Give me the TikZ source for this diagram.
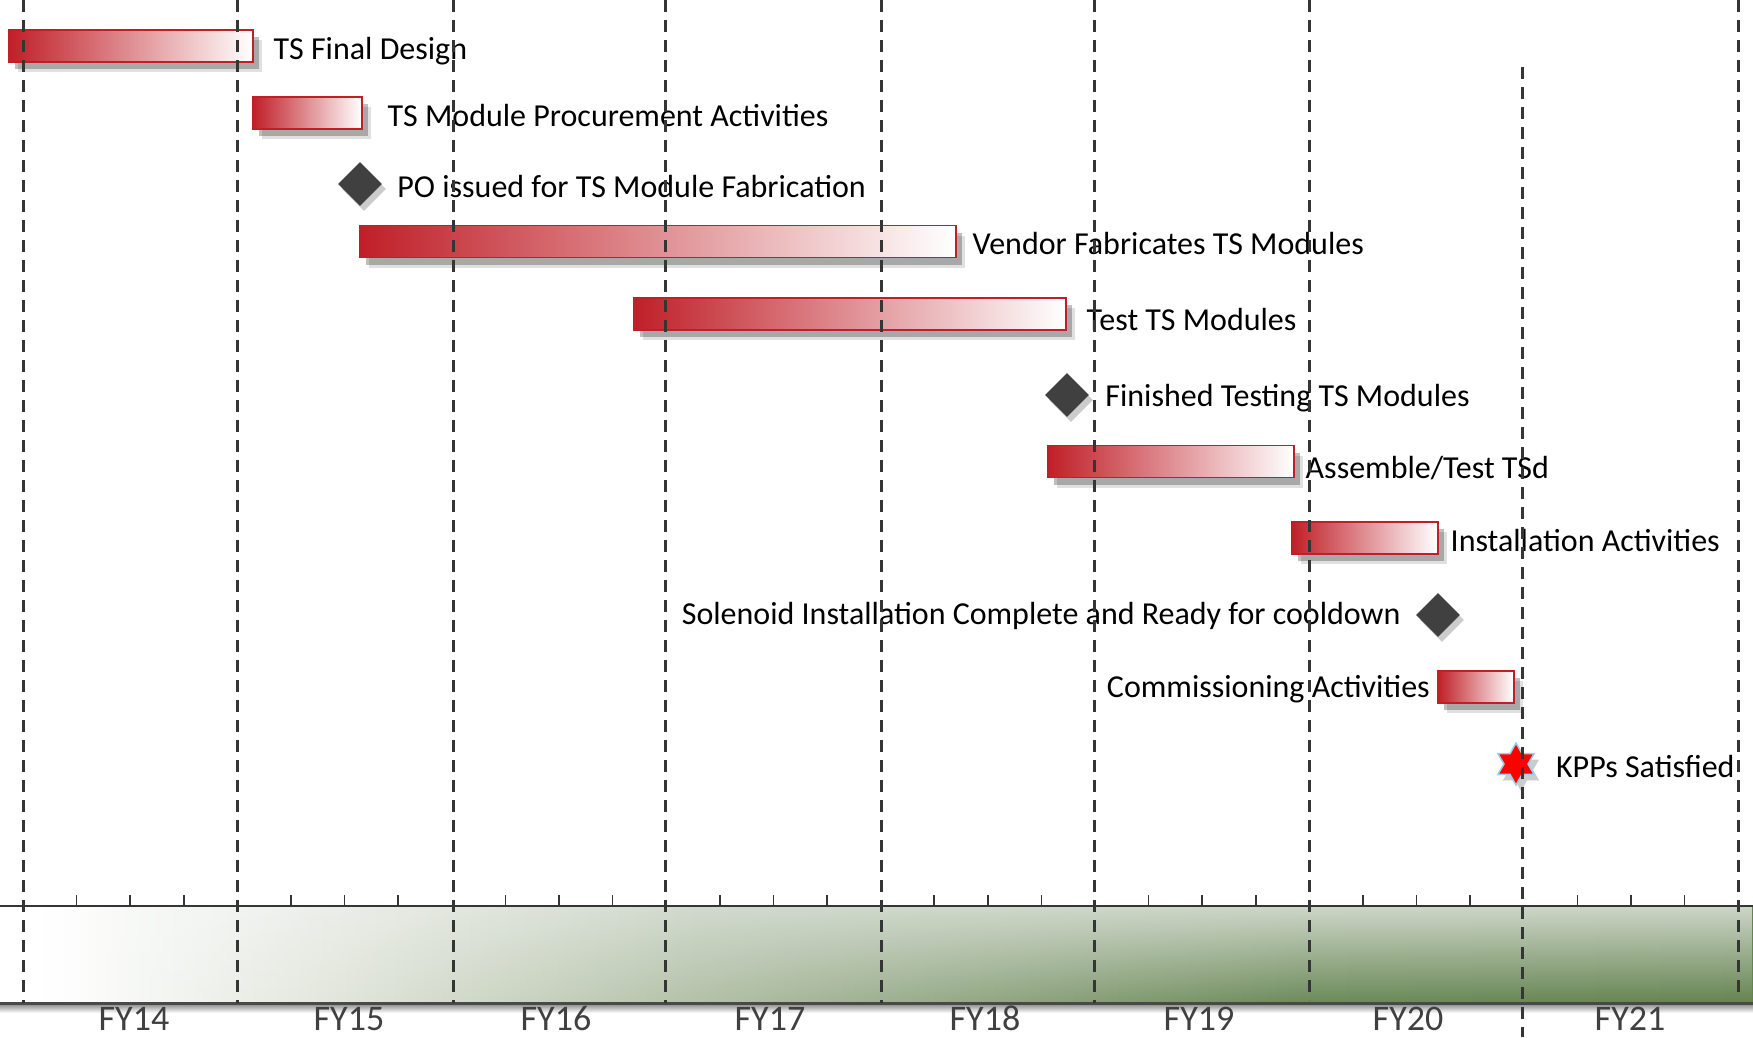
\documentclass[tikz,border=0pt]{standalone}
\usepackage{fontspec}
\setmainfont{Carlito}
\definecolor{barred}{HTML}{C01F28}
\definecolor{milegray}{HTML}{404040}
\definecolor{gridgray}{HTML}{353535}
\definecolor{bandA}{HTML}{E0E5DA}
\definecolor{bandB}{HTML}{C5CFBB}
\definecolor{bandC}{HTML}{A8B89C}
\definecolor{bandD}{HTML}{90A682}
\definecolor{bandE}{HTML}{6C8A59}
\definecolor{bandF}{HTML}{658350}
\definecolor{bandtop}{HTML}{D3DBCF}
\definecolor{starblue}{HTML}{8ED4EC}
\usetikzlibrary{shapes.geometric,positioning,shadows,fadings}
\pgfdeclarehorizontalshading{bandbase}{100bp}{color(0bp)=(white); color(26.5bp)=(white);
  color(35bp)=(bandA); color(41bp)=(bandB); color(47.5bp)=(bandC); color(53.5bp)=(bandD);
  color(62.5bp)=(bandE); color(75bp)=(bandF); color(100bp)=(bandF)}
\pgfdeclarehorizontalshading{bandlight}{100bp}{color(0bp)=(white); color(26bp)=(white);
  color(45bp)=(bandtop); color(100bp)=(bandtop)}
\tikzfading[name=bandfade, top color=transparent!5, bottom color=transparent!100]

\begin{document}
\begin{tikzpicture}[x=1pt, y=-1pt,
  bar/.style={draw=barred, line width=1.5pt, left color=barred, right color=white,
    minimum height=32pt, inner sep=0pt, anchor=west,
    drop shadow={shadow xshift=9pt, shadow yshift=-10pt, fill=black, opacity=0.12},
    drop shadow={shadow xshift=6pt, shadow yshift=-7pt, fill=black, opacity=0.25}},
  milestone/.style={diamond, fill=milegray, minimum size=44pt, inner sep=0pt,
    drop shadow={shadow xshift=4pt, shadow yshift=-5pt, fill=black, opacity=0.2}},
  lbl/.style={font=\fontsize{32}{38}\selectfont, inner sep=0pt,
    text height=20.6pt, text depth=0pt, yshift=-3pt},
  yr/.style={font=\fontsize{36}{42}\selectfont, text=milegray, inner sep=0pt,
    text height=23.2pt, text depth=0pt},
  grid/.style={gridgray, line width=3pt, dash pattern=on 12pt off 8pt},
  tick/.style={gridgray, line width=1.5pt}
]
  \useasboundingbox (0,0) rectangle (1753,1037);

  % time band
  \shade[shading=bandbase] (0,906) rectangle (1753,1003);
  \shade[shading=bandlight, path fading=bandfade] (0,906) rectangle (1753,1003);
  \shade[top color=black!45, bottom color=white] (0,1004) rectangle (1753,1013);
  \draw[gridgray!90, line width=3pt] (0,1003) -- (1753,1003);
  \draw[tick, line width=2pt] (0,906) -- (1753,906);
  \foreach \i in {0,...,7}
    \foreach \k in {1,2,3}
      \draw[tick] ({23+\i*214.4+\k*53.6},906) -- ++(0,-11);

  \node[yr] (fy14) at (134,1019) {FY14};
  \node[yr] (fy15) at (349,1019) {FY15};
  \node[yr] (fy16) at (556,1019) {FY16};
  \node[yr] (fy17) at (770,1019) {FY17};
  \node[yr] (fy18) at (985,1019) {FY18};
  \node[yr] (fy19) at (1199,1019) {FY19};
  \node[yr] (fy20) at (1408,1019) {FY20};
  \node[yr] (fy21) at (1630,1019) {FY21};

  % activities
  \node[bar, minimum width=244pt] (design) at (8,46) {};
  \node[bar, minimum width=109pt] (procure) at (252,113) {};
  \node[bar, minimum width=596pt] (vendor) at (359,241.5) {};
  \node[bar, minimum width=432pt] (testing) at (633,314) {};
  \node[bar, minimum width=246pt] (assemble) at (1047,461.5) {};
  \node[bar, minimum width=146pt] (install) at (1291,538) {};
  \node[bar, minimum width=76pt] (commission) at (1437,687) {};

  % milestones
  \node[milestone] (po) at (360,184) {};
  \node[milestone] (finished) at (1067,395) {};
  \node[milestone] (solenoid) at (1438,615) {};
  \node[star, star points=6, star point ratio=1.75, minimum size=42pt, inner sep=0pt,
    fill=red, draw=starblue, line width=1.5pt,
    drop shadow={shadow xshift=5pt, shadow yshift=-6pt, fill=black, opacity=0.2}]
    (kpp) at (1516,764) {};

  \node[lbl, right=20pt of design] (designtxt) {TS Final Design};
  \node[lbl, right=25pt of procure] (procuretxt) {TS Module Procurement Activities};
  \node[lbl, right=15pt of po] (potxt) {PO issued for TS Module Fabrication};
  \node[lbl, right=16pt of vendor] (vendortxt) {Vendor Fabricates TS Modules};
  \node[lbl, right=20pt of testing, yshift=-3pt] (testingtxt) {Test TS Modules};
  \node[lbl, right=16pt of finished, yshift=2pt] (finishedtxt) {Finished Testing TS Modules};
  \node[lbl, right=11pt of assemble, yshift=-4pt] (assembletxt) {Assemble/Test TSd};
  \node[lbl, right=12pt of install] (installtxt) {Installation Activities};
  \node[lbl, left=15pt of solenoid, yshift=4pt] (solenoidtxt) {Solenoid Installation Complete and Ready for cooldown};
  \node[lbl, left=7pt of commission, yshift=3pt] (commissiontxt) {Commissioning Activities};
  \node[lbl, right=27pt of kpp] (kpptxt) {KPPs Satisfied};

  % fiscal year boundaries
  \foreach \x/\ya/\yb in {23/0/1003, 237/0/1003, 453/0/1003, 665/0/1003, 881/0/1003,
      1094/0/1003, 1309/0/1000, 1522/67/1037, 1738/0/995}
    \draw[grid] (\x,\ya) -- (\x,\yb);
\end{tikzpicture}
\end{document}
